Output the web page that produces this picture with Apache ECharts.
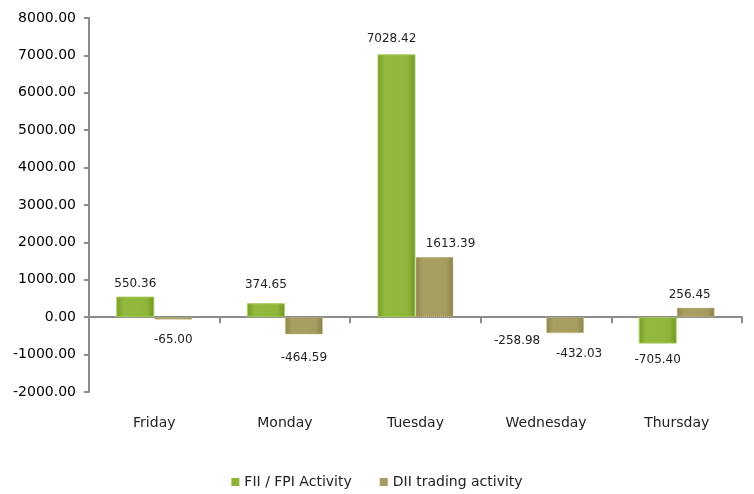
<!DOCTYPE html>
<html>
<head>
<meta charset="utf-8">
<script src="https://cdn.jsdelivr.net/npm/echarts@6/dist/echarts.min.js"></script>
<style>
  html, body { margin: 0; padding: 0; background: #fff; }
  #chart { width: 754px; height: 494px; }
</style>
</head>
<body>
<div id="chart"></div>
<script>
const days = ['Friday', 'Monday', 'Tuesday', 'Wednesday', 'Thursday']
const fiiValues = [550.36, 374.65, 7028.42, -258.98, -705.40]
const diiValues = [-65.00, -464.59, 1613.39, -432.03, 256.45]
// the reference shows no bar for Wednesday FII, only its label
const hiddenFii = [3]

// small label nudges to match where the original placed them
const fiiNudge = [[0, 0], [0, -5], [-5, -2], [-10, -2], [0, 0]]
const diiNudge = [[0, 4], [0, 7], [16, 0], [14, 5], [-6, 0]]

const chart = echarts.init(document.getElementById('chart'))

const greenFill = new echarts.graphic.LinearGradient(0, 0, 1, 0, [
  { offset: 0, color: '#769c28' },
  { offset: 0.2, color: '#93b93f' },
  { offset: 0.8, color: '#8fb63b' },
  { offset: 1, color: '#6f9424' }
])
const khakiFill = new echarts.graphic.LinearGradient(0, 0, 1, 0, [
  { offset: 0, color: '#8e864d' },
  { offset: 0.2, color: '#a89f63' },
  { offset: 0.8, color: '#a59c60' },
  { offset: 1, color: '#8a8249' }
])

const labelFor = (v, nudge) => ({
  show: true,
  position: v >= 0 ? 'top' : 'bottom',
  distance: v >= 0 ? 7 : 10,
  offset: nudge,
  color: '#222',
  fontSize: 12,
  fontFamily: 'DejaVu Sans',
  formatter: (p) => p.value.toFixed(2)
})

const option = {
  animation: false,
  grid: { left: 89, right: 12, top: 18, bottom: 102, outerBoundsMode: 'none', containLabel: false },
  legend: {
    bottom: 0,
    left: 'center',
    icon: 'rect',
    itemWidth: 8,
    itemHeight: 8,
    itemGap: 28,
    textStyle: { color: '#222', fontSize: 14, fontFamily: 'DejaVu Sans' },
    data: [
      { name: 'FII / FPI Activity', itemStyle: { color: '#8db33a' } },
      { name: 'DII trading activity', itemStyle: { color: '#a69c60' } }
    ]
  },
  xAxis: {
    type: 'category',
    data: days,
    axisLine: { onZero: true, lineStyle: { color: '#8c8c8c', width: 2 } },
    axisTick: { show: true, length: 6, lineStyle: { color: '#8c8c8c', width: 2 } },
    axisLabel: {
      color: '#222',
      fontSize: 14,
      fontFamily: 'DejaVu Sans',
      margin: 24
    }
  },
  yAxis: {
    type: 'value',
    min: -2000,
    max: 8000,
    interval: 1000,
    splitLine: { show: false },
    axisLine: { show: true, lineStyle: { color: '#8c8c8c', width: 2 } },
    axisTick: { show: true, length: 5, lineStyle: { color: '#8c8c8c', width: 2 } },
    axisLabel: {
      color: '#000',
      fontSize: 14,
      fontFamily: 'DejaVu Sans',
      margin: 13,
      formatter: (v) => v.toFixed(2)
    }
  },
  series: [
    {
      name: 'FII / FPI Activity',
      type: 'bar',
      barWidth: 38,
      barGap: '0%',
      data: fiiValues.map((v, i) => ({
        value: v,
        label: labelFor(v, fiiNudge[i]),
        itemStyle: hiddenFii.includes(i)
          ? { color: 'rgba(0,0,0,0)', borderWidth: 0 }
          : { color: greenFill, borderColor: '#a8cc5a', borderWidth: 1 }
      }))
    },
    {
      name: 'DII trading activity',
      type: 'bar',
      barWidth: 38,
      barGap: '0%',
      data: diiValues.map((v, i) => ({
        value: v,
        label: labelFor(v, diiNudge[i]),
        itemStyle: { color: khakiFill, borderColor: '#c9c08a', borderWidth: 1, borderType: 'dotted' }
      }))
    }
  ]
}

chart.setOption(option)
</script>
</body>
</html>
